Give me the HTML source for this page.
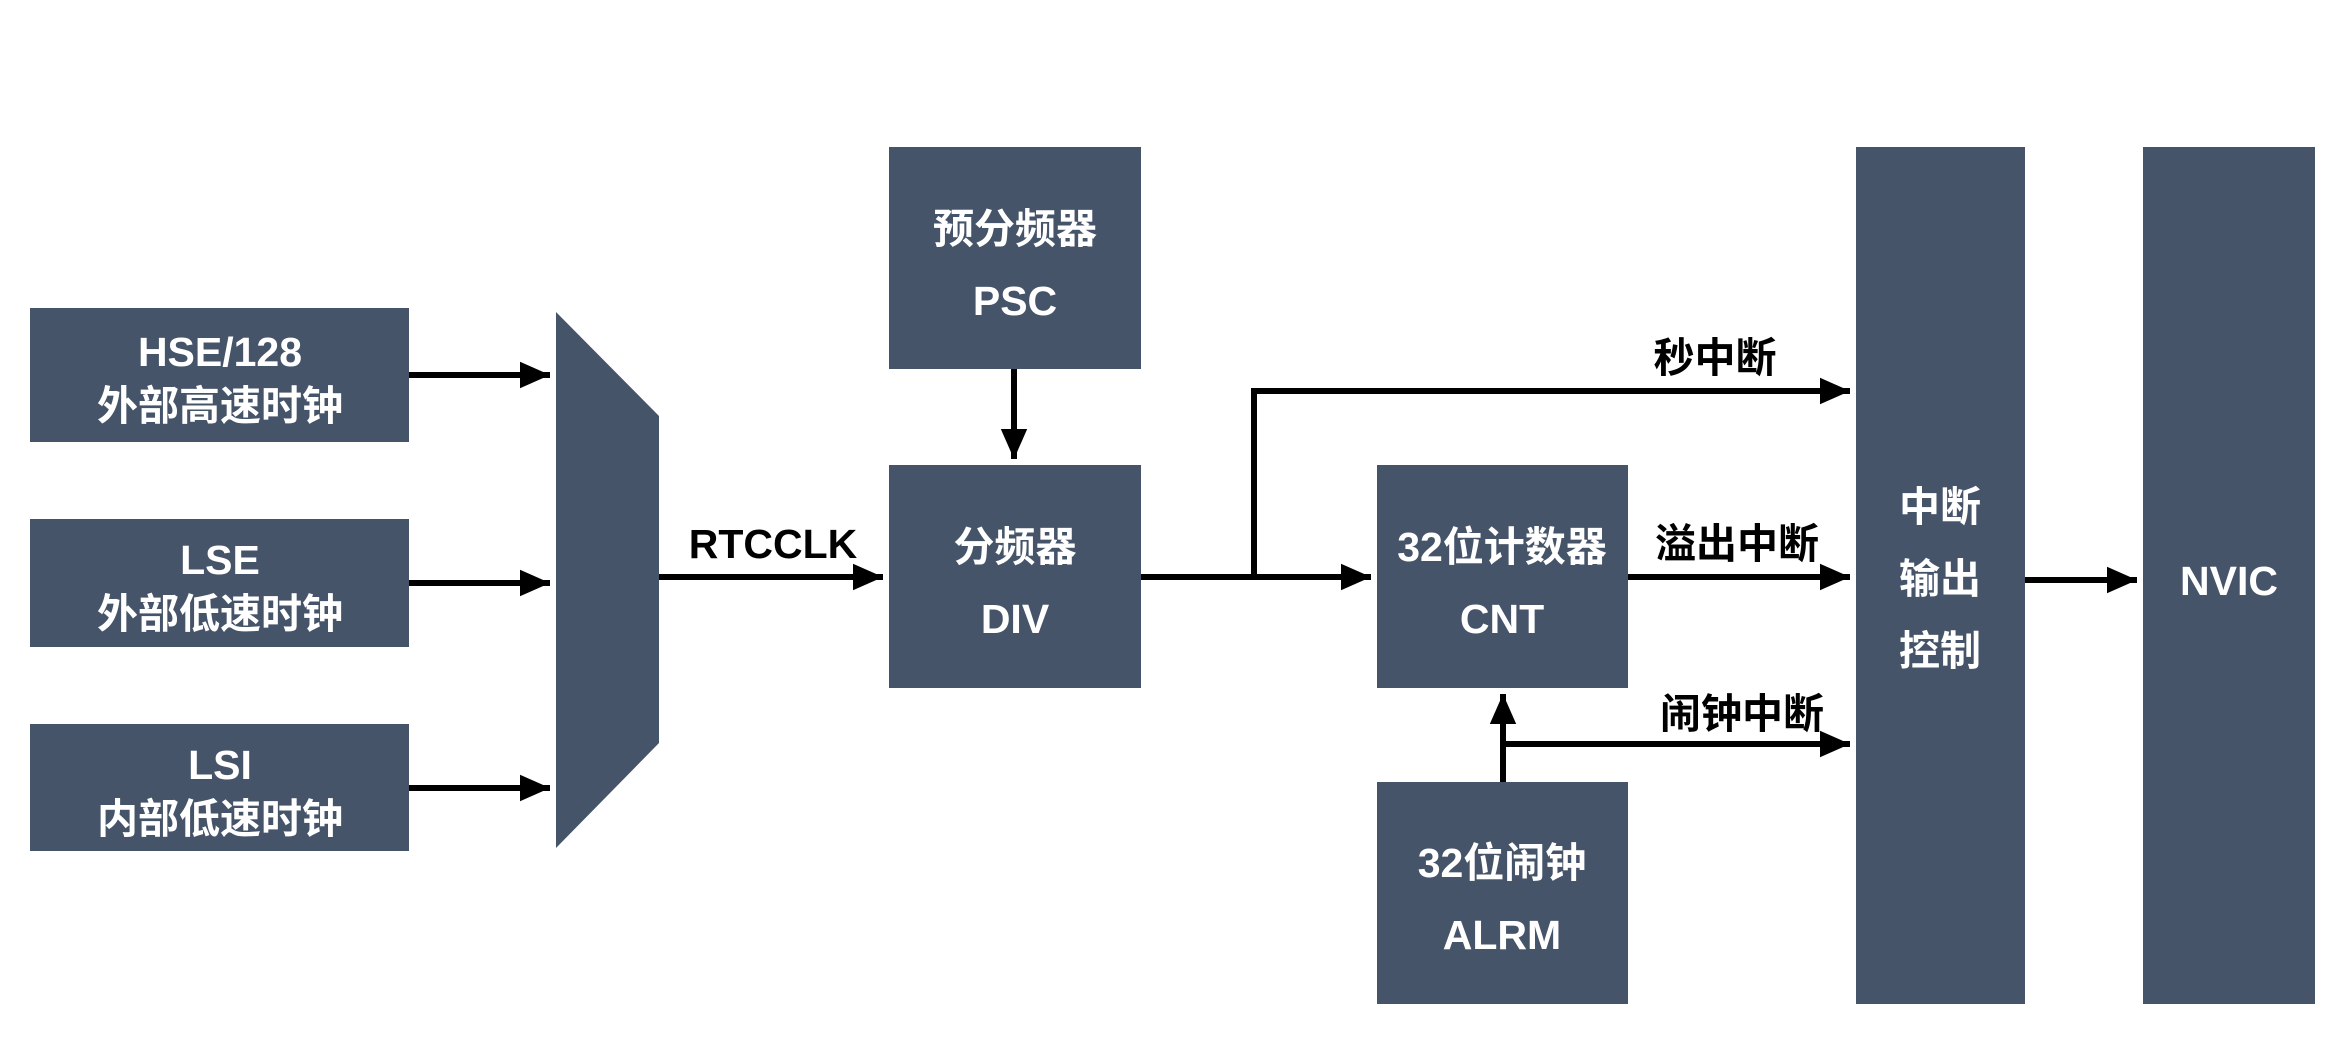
<!DOCTYPE html>
<html><head><meta charset="utf-8"><style>
html,body{margin:0;padding:0;background:#fff;width:2332px;height:1050px;overflow:hidden}
svg{display:block}
text{font-family:"Liberation Sans","Noto Sans CJK SC",sans-serif;font-weight:bold;font-size:41px}
.w{fill:#fff}
.b{fill:#000}
</style></head><body>
<svg width="2332" height="1050" viewBox="0 0 2332 1050">
<defs><marker id="a" markerWidth="6" markerHeight="6" refX="5" refY="3" orient="auto" markerUnits="strokeWidth"><path d="M0,0.8 L5,3 L0,5.2 z" fill="#000"/></marker></defs>
<g fill="#46546a">
<rect x="30" y="308" width="379" height="134"/>
<rect x="30" y="519" width="379" height="128"/>
<rect x="30" y="724" width="379" height="127"/>
<polygon points="556,312 659,416 659,743 556,848"/>
<rect x="889" y="147" width="252" height="222"/>
<rect x="889" y="465" width="252" height="223"/>
<rect x="1377" y="465" width="251" height="223"/>
<rect x="1377" y="782" width="251" height="222"/>
<rect x="1856" y="147" width="169" height="857"/>
<rect x="2143" y="147" width="172" height="857"/>
</g>
<g stroke="#000" stroke-width="6" fill="none">
<line x1="409" y1="375" x2="550" y2="375" marker-end="url(#a)"/>
<line x1="409" y1="583" x2="550" y2="583" marker-end="url(#a)"/>
<line x1="409" y1="788" x2="550" y2="788" marker-end="url(#a)"/>
<line x1="659" y1="577" x2="883" y2="577" marker-end="url(#a)"/>
<line x1="1014" y1="369" x2="1014" y2="459" marker-end="url(#a)"/>
<line x1="1141" y1="577" x2="1371" y2="577" marker-end="url(#a)"/>
<polyline points="1254,577 1254,391 1850,391" marker-end="url(#a)"/>
<line x1="1628" y1="577" x2="1850" y2="577" marker-end="url(#a)"/>
<line x1="1503" y1="782" x2="1503" y2="694" marker-end="url(#a)"/>
<line x1="1503" y1="744" x2="1850" y2="744" marker-end="url(#a)"/>
<line x1="2025" y1="580" x2="2137" y2="580" marker-end="url(#a)"/>
</g>
<g class="w" text-anchor="middle">
<text x="220" y="366">HSE/128</text><text x="220" y="420">外部高速时钟</text>
<text x="220" y="574">LSE</text><text x="220" y="628">外部低速时钟</text>
<text x="220" y="779">LSI</text><text x="220" y="833">内部低速时钟</text>
<text x="1015" y="243">预分频器</text><text x="1015" y="315">PSC</text>
<text x="1015" y="561">分频器</text><text x="1015" y="633">DIV</text>
<text x="1502" y="561">32位计数器</text><text x="1502" y="633">CNT</text>
<text x="1502" y="877">32位闹钟</text><text x="1502" y="949">ALRM</text>
<text x="1940" y="521">中断</text><text x="1940" y="593">输出</text><text x="1940" y="665">控制</text>
<text x="2229" y="595">NVIC</text>
</g>
<g class="b" text-anchor="middle">
<text x="773" y="558">RTCCLK</text>
<text x="1715" y="372">秒中断</text>
<text x="1737" y="558">溢出中断</text>
<text x="1742" y="728">闹钟中断</text>
</g>
</svg>
</body></html>
